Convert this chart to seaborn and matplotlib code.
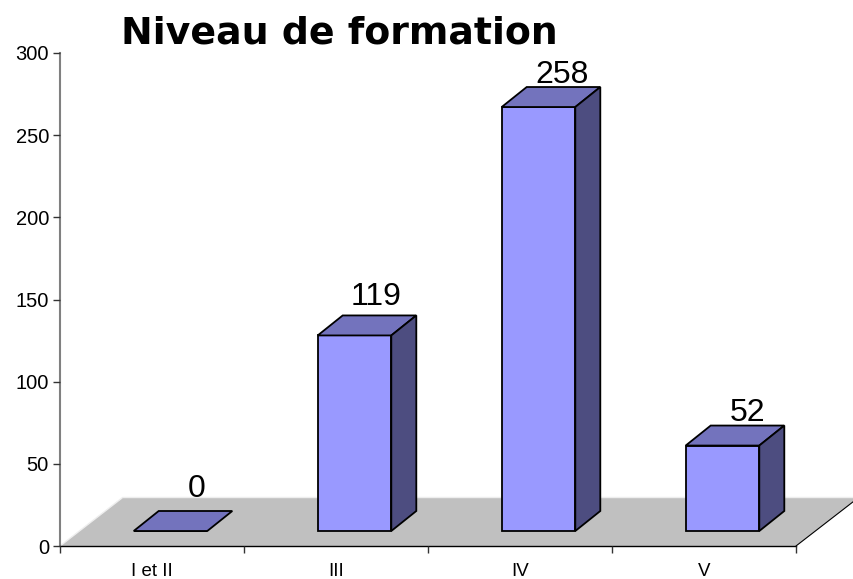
"""Niveau de formation: bar chart with an Excel style 3D look."""

import matplotlib

matplotlib.use("Agg")

import matplotlib.pyplot as plt
import pandas as pd
import seaborn as sns
from matplotlib.patches import Polygon

categories = ["I et II", "III", "IV", "V"]
values = [0, 119, 258, 52]
y_ticks = [0, 50, 100, 150, 200, 250, 300]

# layout, in reference pixels
WIDTH, HEIGHT = 854, 579
AX_LEFT, AX_RIGHT = 60, 796
AX_TOP, AX_BOTTOM = 53, 546
PX_X = 4 / (AX_RIGHT - AX_LEFT)  # category units per pixel
PX_Y = 300 / (AX_BOTTOM - AX_TOP)  # value units per pixel

DEPTH_X, DEPTH_Y = 25 * PX_X, 20 * PX_Y
BAR_BASE = 15 * PX_Y
BAR_SHIFT = 18.5 * PX_X
label_dx = [26, 22, 24, 25]
label_dy = [34, 30, 24, 25]

FRONT, TOP, SIDE = "#9999FF", "#7373BD", "#4D4D80"
FLOOR = "#C0C0C0"

sns.set_theme(style="white")
plt.rcParams["font.family"] = ["Liberation Sans", "DejaVu Sans"]

fig = plt.figure(figsize=(WIDTH / 100, HEIGHT / 100), dpi=100)
ax = fig.add_axes([
    AX_LEFT / WIDTH,
    1 - AX_BOTTOM / HEIGHT,
    (AX_RIGHT - AX_LEFT) / WIDTH,
    (AX_BOTTOM - AX_TOP) / HEIGHT,
])

df = pd.DataFrame({"niveau": categories, "effectif": values})
sns.barplot(
    data=df, x="niveau", y="effectif", ax=ax, width=0.4, color=FRONT, saturation=1,
    bottom=BAR_BASE, edgecolor="black", linewidth=1.3, zorder=3,
)
ax.set_xlim(-0.5, 3.5)
ax.set_ylim(0, 300)

# floor of the 3D box, it runs past the axes and off the figure
floor_depth_x, floor_depth_y = 62 * PX_X, 48 * PX_Y
floor = Polygon(
    [(-0.5, 0), (3.5, 0), (3.5 + floor_depth_x, floor_depth_y), (-0.5 + floor_depth_x, floor_depth_y)],
    closed=True, facecolor=FLOOR, edgecolor="none", clip_on=False, zorder=1,
)
ax.add_patch(floor)
ax.plot([-0.5 + floor_depth_x, 3.5 + floor_depth_x], [floor_depth_y + 0.6] * 2,
        color="#EEEEEE", lw=1, clip_on=False, zorder=1)
ax.plot([-0.5, -0.5 + floor_depth_x], [0, floor_depth_y],
        color="#EEEEEE", lw=1, clip_on=False, zorder=1)
ax.plot([3.5, 3.5 + floor_depth_x], [0, floor_depth_y],
        color="black", lw=0.8, clip_on=False, zorder=1)

# top and side faces for each bar
for i, (bar, val) in enumerate(zip(ax.patches, values)):
    bar.set_x(bar.get_x() + BAR_SHIFT)
    x0, x1 = bar.get_x(), bar.get_x() + bar.get_width()
    y0, y1 = BAR_BASE, BAR_BASE + val
    ax.add_patch(Polygon(
        [(x0, y1), (x1, y1), (x1 + DEPTH_X, y1 + DEPTH_Y), (x0 + DEPTH_X, y1 + DEPTH_Y)],
        closed=True, facecolor=TOP, edgecolor="black", lw=1.3, zorder=3, clip_on=False,
    ))
    if val > 0:
        ax.add_patch(Polygon(
            [(x1, y0), (x1 + DEPTH_X, y0 + DEPTH_Y), (x1 + DEPTH_X, y1 + DEPTH_Y), (x1, y1)],
            closed=True, facecolor=SIDE, edgecolor="black", lw=1.3, zorder=3, clip_on=False,
        ))
    ax.annotate(
        str(val), xy=((x0 + x1) / 2, y1),
        xytext=(label_dx[i] * 0.72, label_dy[i] * 0.72), textcoords="offset points",
        ha="center", va="baseline", fontsize=23, color="black", zorder=5,
        annotation_clip=False,
    )

ax.set_xlabel("")
ax.set_ylabel("")
ax.set_yticks(y_ticks)
ax.set_xticks([-0.5, 0.5, 1.5, 2.5, 3.5], labels=[])
ax.set_xticks([0, 1, 2, 3], labels=categories, minor=True)
ax.tick_params(axis="y", which="major", left=True, length=5, width=1, color="#333333",
               labelsize=14.5, pad=3, labelcolor="black")
ax.tick_params(axis="x", which="major", bottom=True, length=5, width=1, color="#333333")
ax.tick_params(axis="x", which="minor", bottom=False, labelsize=13.5, pad=8, labelcolor="black")

sns.despine(ax=ax)
ax.spines["left"].set_color("#808080")
ax.spines["left"].set_linewidth(1.5)
ax.spines["bottom"].set_color("black")
ax.spines["bottom"].set_linewidth(1)
ax.set_axisbelow(False)

fig.text(339.5 / WIDTH, 1 - 43 / HEIGHT, "Niveau de formation", ha="center", va="baseline",
         fontsize=27.3, fontweight="bold", family="DejaVu Sans", color="black")

fig.savefig("out.png", dpi=100)
plt.close(fig)
